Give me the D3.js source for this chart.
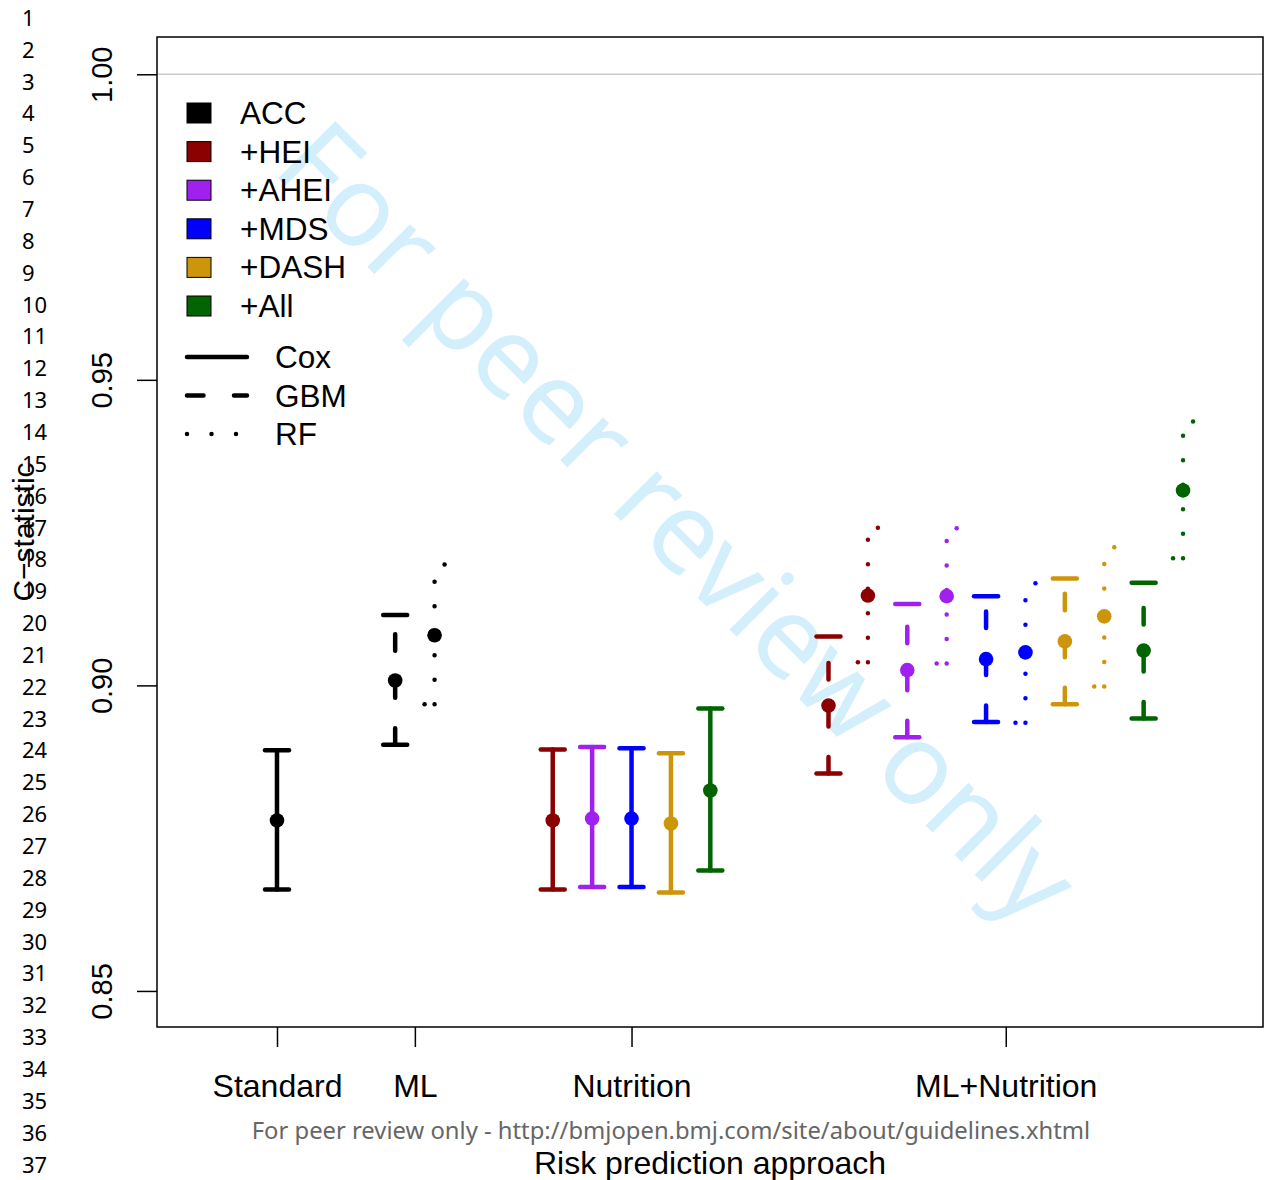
<!DOCTYPE html>
<html>
<head>
<meta charset="utf-8">
<script src="https://cdn.jsdelivr.net/npm/d3@7"></script>
<style>
  body { margin: 0; background: #fff; }
  svg { display: block; }
</style>
</head>
<body>
<script>
// model groups and colours
var groups = ["ACC", "+HEI", "+AHEI", "+MDS", "+DASH", "+All"];
var colors = ["#000000", "#8B0000", "#A020F0", "#0000FF", "#CD950C", "#006400"];
var methods = ["Cox", "GBM", "RF"];

// one entry per error bar
var pos = [1, 4, 5, 8, 9, 10, 11, 12, 15, 16, 17, 18, 19, 20, 21, 22, 23, 24];
var grp = ["ACC", "ACC", "ACC", "+HEI", "+AHEI", "+MDS", "+DASH", "+All",
           "+HEI", "+HEI", "+AHEI", "+AHEI", "+MDS", "+MDS", "+DASH", "+DASH", "+All", "+All"];
var mth = ["Cox", "GBM", "RF", "Cox", "Cox", "Cox", "Cox", "Cox",
           "GBM", "RF", "GBM", "RF", "GBM", "RF", "GBM", "RF", "GBM", "RF"];
var est = [0.8779, 0.9008, 0.9082, 0.8779, 0.8782, 0.8782, 0.8774, 0.8828,
           0.8967, 0.9147, 0.9025, 0.9146, 0.9043, 0.9054, 0.9072, 0.9113, 0.9057, 0.9319];
var lo  = [0.8666, 0.8903, 0.8969, 0.8666, 0.8670, 0.8670, 0.8661, 0.8697,
           0.8856, 0.9038, 0.8915, 0.9036, 0.8940, 0.8939, 0.8969, 0.8998, 0.8946, 0.9208];
var hi  = [0.8894, 0.9115, 0.9198, 0.8895, 0.8899, 0.8897, 0.8889, 0.8962,
           0.9080, 0.9258, 0.9133, 0.9257, 0.9146, 0.9167, 0.9175, 0.9226, 0.9168, 0.9432];

// x axis categories
var tickPos = [1, 4.5, 10, 19.5];
var tickLab = ["Standard", "ML", "Nutrition", "ML+Nutrition"];
var yTicks = [0.85, 0.90, 0.95, 1.00];

chart();

function chart ()
{
    var width = 1270, height = 1180;
    var pl = 157, pr = 1263, pt = 37, pb = 1027;
    var font = "'Liberation Sans', Arial, sans-serif";

    var svg = d3.select("body").append("svg")
        .attr("width", width)
        .attr("height", height);

    var data = pos.map(function (p, i) {
        return {x: p, g: grp[i], m: mth[i], est: est[i], lo: lo[i], hi: hi[i]};
    });

    var xScale = d3.scaleLinear().domain([-2.046, 26.03]).range([pl, pr]);
    var yScale = d3.scaleLinear().domain([0.8441, 1.0061]).range([pb, pt]);
    var color = d3.scaleOrdinal().domain(groups).range(colors);

    var lineW = 4.5, capHalf = 12;
    var dash = {Cox: null, GBM: "16.5,30.5", RF: "0,24.5"};

    // watermark
    svg.append("text")
        .attr("transform", "translate(678,522) rotate(45)")
        .attr("text-anchor", "middle")
        .attr("dy", "0.35em")
        .style("font-family", "'Noto Sans', sans-serif")
        .style("font-size", "113px")
        .style("fill", "#d3effc")
        .text("For peer review only");

    // line numbers down the left margin
    svg.append("g").selectAll("text")
        .data(d3.range(1, 38))
        .enter().append("text")
        .attr("x", 22)
        .attr("y", function (d) { return 18 + (d - 1) * 31.85; })
        .attr("dy", "0.36em")
        .style("font-family", "'Noto Sans', sans-serif")
        .style("font-size", "22px")
        .text(function (d) { return d; });

    // reference line at 1.00
    svg.append("line")
        .attr("x1", pl).attr("x2", pr)
        .attr("y1", yScale(1)).attr("y2", yScale(1))
        .style("stroke", "#cccccc")
        .style("stroke-width", 1.5);

    // axes
    var yAxis = d3.axisLeft(yScale).tickValues(yTicks).tickFormat(d3.format(".2f"))
        .tickSize(20).tickSizeOuter(0);
    var gy = svg.append("g").attr("transform", "translate(" + pl + ",0)").call(yAxis);
    gy.select(".domain").remove();
    gy.selectAll("line").style("stroke-width", 1.5);
    gy.selectAll("text")
        .attr("x", null).attr("dy", null)
        .attr("text-anchor", "middle")
        .attr("transform", "translate(-45,0) rotate(-90)")
        .style("font-family", font)
        .style("font-size", "29px")
        .style("fill", "#000");

    var xAxis = d3.axisBottom(xScale).tickValues(tickPos)
        .tickFormat(function (d, i) { return tickLab[i]; })
        .tickSize(20).tickSizeOuter(0);
    var gx = svg.append("g").attr("transform", "translate(0," + pb + ")").call(xAxis);
    gx.select(".domain").remove();
    gx.selectAll("line").style("stroke-width", 1.5);
    gx.selectAll("text")
        .attr("y", 70).attr("dy", null)
        .style("font-family", font)
        .style("font-size", "32px")
        .style("fill", "#000");

    // box
    svg.append("rect")
        .attr("x", pl).attr("y", pt)
        .attr("width", pr - pl).attr("height", pb - pt)
        .style("fill", "none")
        .style("stroke", "#000")
        .style("stroke-width", 1.5);

    // axis titles
    svg.append("text")
        .attr("x", (pl + pr) / 2).attr("y", 1174)
        .attr("text-anchor", "middle")
        .style("font-family", font)
        .style("font-size", "32px")
        .text("Risk prediction approach");

    svg.append("text")
        .attr("transform", "translate(34,532) rotate(-90)")
        .attr("text-anchor", "middle")
        .style("font-family", font)
        .style("font-size", "30px")
        .text("C\u2212statistic");

    // error bars
    var bars = svg.append("g").selectAll(".bar")
        .data(data)
        .enter().append("g")
        .attr("class", "bar")
        .style("stroke", function (d) { return color(d.g); })
        .style("fill", function (d) { return color(d.g); })
        .style("stroke-width", lineW)
        .style("stroke-linecap", "round");

    bars.append("line")
        .attr("x1", function (d) { return xScale(d.x); })
        .attr("x2", function (d) { return xScale(d.x); })
        .attr("y1", function (d) { return yScale(d.lo); })
        .attr("y2", function (d) { return yScale(d.hi); })
        .style("stroke-dasharray", function (d) { return dash[d.m]; });

    // caps: solid for Cox / GBM, a single dot for RF
    bars.filter(function (d) { return d.m !== "RF"; }).each(function (d) {
        var g = d3.select(this);
        [d.lo, d.hi].forEach(function (v) {
            g.append("line")
                .attr("x1", xScale(d.x) - capHalf).attr("x2", xScale(d.x) + capHalf)
                .attr("y1", yScale(v)).attr("y2", yScale(v));
        });
    });
    bars.filter(function (d) { return d.m === "RF"; }).each(function (d) {
        var g = d3.select(this);
        [[d.lo, -1], [d.hi, 1]].forEach(function (c) {
            g.append("line")
                .attr("x1", xScale(d.x)).attr("x2", xScale(d.x) + c[1] * capHalf)
                .attr("y1", yScale(c[0])).attr("y2", yScale(c[0]))
                .style("stroke-dasharray", "0,1000")
                .style("stroke-dashoffset", -10);
        });
    });

    bars.append("circle")
        .attr("cx", function (d) { return xScale(d.x); })
        .attr("cy", function (d) { return yScale(d.est); })
        .attr("r", 7.3)
        .style("stroke", "none");

    // legend: groups
    var leg = svg.append("g");
    leg.selectAll("rect")
        .data(groups)
        .enter().append("rect")
        .attr("x", 187)
        .attr("y", function (d, i) { return 103 + i * 38.6; })
        .attr("width", 24).attr("height", 20)
        .style("fill", function (d) { return color(d); })
        .style("stroke", "#000")
        .style("stroke-width", 1);
    leg.selectAll("text.grp")
        .data(groups)
        .enter().append("text")
        .attr("class", "grp")
        .attr("x", 240)
        .attr("y", function (d, i) { return 113 + i * 38.6; })
        .attr("dy", "0.35em")
        .style("font-family", font)
        .style("font-size", "31.5px")
        .text(function (d) { return d; });

    // legend: methods
    leg.selectAll("line")
        .data(methods)
        .enter().append("line")
        .attr("x1", 187).attr("x2", 247)
        .attr("y1", function (d, i) { return 357 + i * 38.5; })
        .attr("y2", function (d, i) { return 357 + i * 38.5; })
        .style("stroke", "#000")
        .style("stroke-width", lineW)
        .style("stroke-linecap", "round")
        .style("stroke-dasharray", function (d) { return dash[d]; });
    leg.selectAll("text.mth")
        .data(methods)
        .enter().append("text")
        .attr("class", "mth")
        .attr("x", 275)
        .attr("y", function (d, i) { return 357 + i * 38.5; })
        .attr("dy", "0.35em")
        .style("font-family", font)
        .style("font-size", "31.5px")
        .text(function (d) { return d; });

    // footer
    svg.append("text")
        .attr("x", 671).attr("y", 1139)
        .attr("text-anchor", "middle")
        .style("font-family", "'Noto Sans', sans-serif")
        .style("font-size", "23.8px")
        .style("fill", "#666")
        .text("For peer review only - http://bmjopen.bmj.com/site/about/guidelines.xhtml");
}
</script>
</body>
</html>
